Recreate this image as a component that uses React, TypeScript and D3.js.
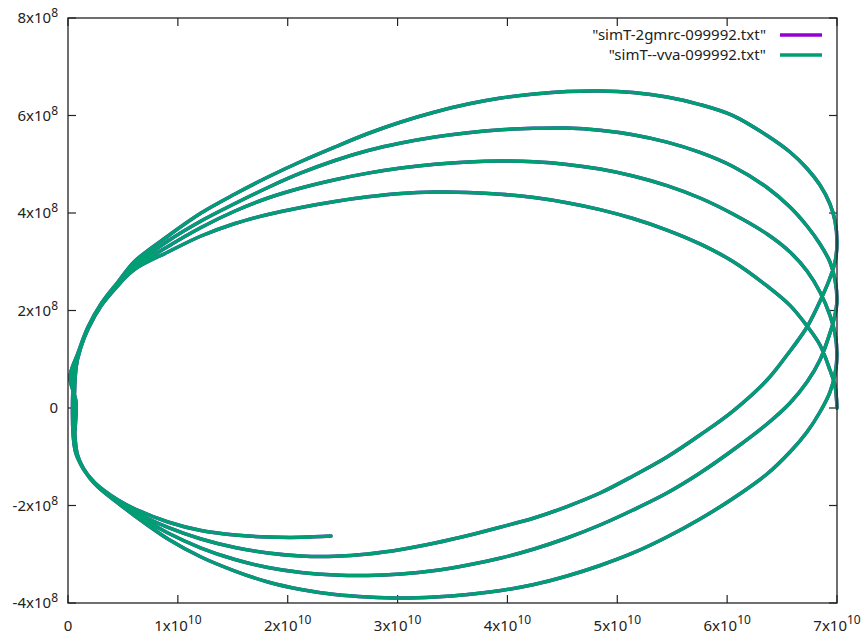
import React from "react";
import * as d3 from "d3";

// Trajectory pieces in time order; x in units of 1e10, y in units of 1e8
const arcTop4: [number, number][] = [
  [7.0, 0], [6.982, 0.451], [6.936, 0.779], [6.845, 1.292], [6.727, 1.682], [6.572, 2.105],
  [6.363, 2.503], [6.053, 3.005], [5.753, 3.366], [5.452, 3.651], [5.143, 3.887], [4.843, 4.07],
  [4.542, 4.211], [4.242, 4.316], [3.941, 4.386], [3.641, 4.423], [3.341, 4.429], [3.031, 4.4],
  [2.731, 4.332], [2.43, 4.236], [2.121, 4.113], [1.82, 3.969], [1.52, 3.785], [1.211, 3.528],
  [0.91, 3.2], [0.61, 2.851], [0.455, 2.523], [0.3, 2.092], [0.182, 1.621], [0.109, 1.21],
  [0.064, 0.738], [0.073, -0.903],
];
const arcBottom1: [number, number][] = [
  [0.146, -1.272], [0.264, -1.6], [0.455, -1.949], [0.61, -2.215], [0.91, -2.687], [1.211, -3.056],
  [1.52, -3.344], [1.82, -3.569], [2.121, -3.723], [2.43, -3.826], [2.731, -3.877], [3.031, -3.897],
  [3.341, -3.877], [3.641, -3.826], [3.941, -3.744], [4.242, -3.621], [4.542, -3.446], [4.843, -3.231],
  [5.143, -2.974], [5.452, -2.646], [5.753, -2.277], [6.053, -1.856], [6.363, -1.354], [6.572, -0.903],
  [6.727, -0.492], [6.845, -0.082], [6.936, 0.328], [6.982, 0.697], [7.0, 1.087],
];
const arcTop3: [number, number][] = [
  [6.982, 1.524], [6.936, 1.9], [6.845, 2.379], [6.727, 2.81], [6.572, 3.2], [6.363, 3.569],
  [6.053, 3.979], [5.753, 4.308], [5.452, 4.562], [5.143, 4.759], [4.843, 4.901], [4.542, 4.997],
  [4.242, 5.052], [3.941, 5.067], [3.641, 5.048], [3.341, 5.001], [3.031, 4.923], [2.731, 4.818],
  [2.43, 4.683], [2.121, 4.513], [1.82, 4.308], [1.52, 4.041], [1.211, 3.703], [0.91, 3.313],
  [0.61, 2.872], [0.455, 2.513], [0.3, 2.092], [0.191, 1.662], [0.118, 1.251], [0.073, 0.821],
  [0.082, -0.923],
];
const arcBottom2: [number, number][] = [
  [0.155, -1.292], [0.273, -1.621], [0.455, -1.928], [0.61, -2.174], [0.91, -2.564], [1.211, -2.872],
  [1.52, -3.108], [1.82, -3.272], [2.121, -3.374], [2.43, -3.426], [2.731, -3.436], [3.031, -3.405],
  [3.341, -3.333], [3.641, -3.221], [3.941, -3.077], [4.242, -2.892], [4.542, -2.667], [4.843, -2.4],
  [5.143, -2.092], [5.452, -1.744], [5.753, -1.333], [6.053, -0.862], [6.363, -0.328], [6.572, 0.103],
  [6.727, 0.533], [6.845, 0.985], [6.936, 1.538], [6.982, 1.908], [7.0, 2.215],
];
const arcTop2: [number, number][] = [
  [6.982, 2.626], [6.936, 2.995], [6.845, 3.364], [6.727, 3.733], [6.572, 4.123], [6.363, 4.523],
  [6.053, 4.954], [5.753, 5.243], [5.452, 5.454], [5.143, 5.606], [4.843, 5.698], [4.542, 5.742],
  [4.242, 5.737], [3.941, 5.707], [3.641, 5.647], [3.341, 5.559], [3.031, 5.436], [2.731, 5.282],
  [2.43, 5.077], [2.121, 4.821], [1.82, 4.523], [1.52, 4.195], [1.211, 3.836], [0.91, 3.426],
  [0.61, 2.933], [0.455, 2.544], [0.3, 2.113], [0.182, 1.641], [0.109, 1.231], [0.055, 0.697],
  [0.064, -0.862],
];
const arcBottom3: [number, number][] = [
  [0.137, -1.231], [0.255, -1.579], [0.455, -1.908], [0.61, -2.133], [0.91, -2.451], [1.211, -2.687],
  [1.52, -2.862], [1.82, -2.974], [2.121, -3.036], [2.43, -3.042], [2.731, -2.995], [3.031, -2.903],
  [3.341, -2.769], [3.641, -2.615], [3.941, -2.441], [4.242, -2.256], [4.542, -2.021], [4.843, -1.744],
  [5.143, -1.395], [5.452, -1.005], [5.753, -0.554], [6.053, -0.062], [6.363, 0.574], [6.545, 1.087],
  [6.727, 1.662], [6.863, 2.277], [6.936, 2.667], [6.982, 2.995], [7.0, 3.385],
];
const arcTop1: [number, number][] = [
  [6.982, 3.836], [6.936, 4.185], [6.845, 4.574], [6.727, 4.913], [6.572, 5.251], [6.363, 5.59],
  [6.053, 5.998], [5.753, 6.224], [5.452, 6.379], [5.143, 6.47], [4.843, 6.503], [4.542, 6.492],
  [4.242, 6.441], [3.941, 6.359], [3.641, 6.236], [3.341, 6.072], [3.031, 5.867], [2.731, 5.631],
  [2.43, 5.354], [2.121, 5.056], [1.82, 4.738], [1.52, 4.39], [1.211, 4.0], [0.91, 3.528],
  [0.61, 3.015], [0.455, 2.585], [0.3, 2.133], [0.182, 1.662], [0.091, 1.128], [0.018, 0.636],
  [0.073, 0.123], [0.064, -0.821],
];
const arcBottom4: [number, number][] = [
  [0.127, -1.19], [0.246, -1.538], [0.455, -1.887], [0.61, -2.072], [0.91, -2.338], [1.211, -2.513],
  [1.52, -2.605], [1.82, -2.646], [2.121, -2.652], [2.394, -2.626],
];

const seriesNames = ['"simT-2gmrc-099992.txt"', '"simT--vva-099992.txt"'];
const seriesColors = ["#9400d3", "#009e73"];

const xTickValues = [0, 1, 2, 3, 4, 5, 6, 7]; // in units of 1e10
const yTickValues = [-4, -2, 0, 2, 4, 6, 8]; // in units of 1e8

const trajectory: [number, number][] = [
  ...arcTop4, ...arcBottom1, ...arcTop3, ...arcBottom2,
  ...arcTop2, ...arcBottom3, ...arcTop1, ...arcBottom4,
].map(([a, b]) => [a * 1e10, b * 1e8]);

// Both files trace the same trajectory (the first is hidden under the second)
const seriesData = [trajectory, trajectory];

const W = 865;
const H = 635;
const L = 68, R = 837, T = 18, B = 603;
const FONT = "'Noto Sans', 'Open Sans', sans-serif";
const FS = 15;
const SUP = 12;
const INK = "#222";

export default function App() {
  const x = d3.scaleLinear().domain([0, 7e10]).range([L, R]);
  const y = d3.scaleLinear().domain([-4e8, 8e8]).range([B, T]);
  const line = d3
    .line<[number, number]>()
    .x((d) => x(d[0]))
    .y((d) => y(d[1]))
    .curve(d3.curveCatmullRom.alpha(0.5));
  const tickLen = 8;

  return (
    <svg
      width={W}
      height={H}
      style={{ position: "absolute", left: 0, top: 0, background: "#fff" }}
      fontFamily={FONT}
    >
      <rect x={0} y={0} width={W} height={H} fill="#fff" />
      {xTickValues.map((v) => {
        const px = x(v * 1e10);
        return (
          <g key={"xt" + v}>
            <line x1={px} x2={px} y1={B} y2={B - tickLen} stroke={INK} strokeWidth={1.2} />
            <line x1={px} x2={px} y1={T} y2={T + tickLen} stroke={INK} strokeWidth={1.2} />
            {v === 0 ? (
              <text x={px} y={631} textAnchor="middle" fontSize={FS} fill={INK}>0</text>
            ) : (
              <text x={px} y={631} textAnchor="middle" fontSize={FS} fill={INK}>
                {v}x10<tspan dy={-7} fontSize={SUP}>10</tspan>
              </text>
            )}
          </g>
        );
      })}
      {yTickValues.map((v) => {
        const py = y(v * 1e8);
        return (
          <g key={"yt" + v}>
            <line x1={L} x2={L + tickLen} y1={py} y2={py} stroke={INK} strokeWidth={1.2} />
            <line x1={R} x2={R - tickLen} y1={py} y2={py} stroke={INK} strokeWidth={1.2} />
            {v === 0 ? (
              <text x={58} y={py + 5} textAnchor="end" fontSize={FS} fill={INK}>0</text>
            ) : (
              <text x={58} y={py + 5} textAnchor="end" fontSize={FS} fill={INK}>
                {v}x10<tspan dy={-6} fontSize={SUP}>8</tspan>
              </text>
            )}
          </g>
        );
      })}
      {seriesData.map((data, i) => (
        <path
          key={"s" + i}
          d={line(data) || ""}
          fill="none"
          stroke={seriesColors[i]}
          strokeWidth={3.5}
          strokeLinejoin="round"
          strokeLinecap="round"
        />
      ))}
      <rect x={L} y={T} width={R - L} height={B - T} fill="none" stroke={INK} strokeWidth={1.3} />
      {seriesNames.map((name, i) => (
        <g key={"lg" + i}>
          <text x={766} y={40 + i * 20} textAnchor="end" fontSize={FS} fill={INK}>{name}</text>
          <line x1={780} x2={822} y1={35 + i * 20} y2={35 + i * 20} stroke={seriesColors[i]} strokeWidth={3.6} />
        </g>
      ))}
    </svg>
  );
}
